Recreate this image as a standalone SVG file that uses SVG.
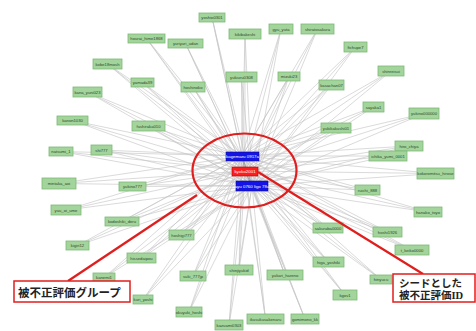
<svg xmlns="http://www.w3.org/2000/svg" width="476" height="331" viewBox="0 0 476 331">
<style>
.e{fill:none;stroke:#c4c4c4;stroke-width:0.7;stroke-opacity:0.9}
.n rect{fill:#a3d49c;stroke:#7db877;stroke-width:0.8}
.n text{font-family:"Liberation Sans",Arial,sans-serif;font-size:4.2px;fill:#2d4a2a;text-anchor:middle}
.b rect{fill:#1414e6;stroke:#0a0a90;stroke-width:0.6}
.r rect{fill:#ff1e1e;stroke:#b00000;stroke-width:0.6}
.b text,.r text{font-family:"Liberation Sans",Arial,sans-serif;font-size:4.4px;fill:#ffffff;text-anchor:middle}
.hl{fill:none;stroke:#e01e1e;stroke-width:2.2}
.lab rect{fill:#ffffff;stroke:#e01e1e;stroke-width:1.5}
.lab text{font-family:"Liberation Serif","Noto Sans CJK JP",serif;font-weight:bold;fill:#222222}
</style>
<rect width="476" height="331" fill="#ffffff"/>
<g id="connectors">
<path class="e" d="M146.5 38.5L242 156M146.5 38.5L245 171M146.5 38.5L252 186"/>
<path class="e" d="M107.5 64L242 156M107.5 64L245 171M107.5 64L252 186"/>
<path class="e" d="M142.5 82.5L242 156M142.5 82.5L245 171M142.5 82.5L252 186"/>
<path class="e" d="M87.5 92L242 156M87.5 92L245 171M87.5 92L252 186"/>
<path class="e" d="M212 17.5L242 156M212 17.5L245 171M212 17.5L252 186"/>
<path class="e" d="M185.5 43.5L242 156M185.5 43.5L245 171M185.5 43.5L252 186"/>
<path class="e" d="M245 34L242 156M245 34L245 171M245 34L252 186"/>
<path class="e" d="M281 29L242 156M281 29L245 171M281 29L252 186"/>
<path class="e" d="M317.5 29L242 156M317.5 29L245 171M317.5 29L252 186"/>
<path class="e" d="M355.5 47L242 156M355.5 47L245 171M355.5 47L252 186"/>
<path class="e" d="M391 71L242 156M391 71L245 171M391 71L252 186"/>
<path class="e" d="M331.5 85L242 156M331.5 85L245 171M331.5 85L252 186"/>
<path class="e" d="M193 87L242 156M193 87L245 171M193 87L252 186"/>
<path class="e" d="M241.5 77L242 156M241.5 77L245 171M241.5 77L252 186"/>
<path class="e" d="M289 76.5L242 156M289 76.5L245 171M289 76.5L252 186"/>
<path class="e" d="M373.5 107L242 156M373.5 107L245 171M373.5 107L252 186"/>
<path class="e" d="M424 113.5L242 156M424 113.5L245 171M424 113.5L252 186"/>
<path class="e" d="M72.5 120.5L242 156M72.5 120.5L245 171M72.5 120.5L252 186"/>
<path class="e" d="M148.5 126L242 156M148.5 126L245 171M148.5 126L252 186"/>
<path class="e" d="M61 151.5L242 156M61 151.5L245 171M61 151.5L252 186"/>
<path class="e" d="M101.5 150L242 156M101.5 150L245 171M101.5 150L252 186"/>
<path class="e" d="M59 183.5L242 156M59 183.5L245 171M59 183.5L252 186"/>
<path class="e" d="M132.5 186.5L242 156M132.5 186.5L245 171M132.5 186.5L252 186"/>
<path class="e" d="M66 210L242 156M66 210L245 171M66 210L252 186"/>
<path class="e" d="M122 221.5L242 156M122 221.5L245 171M122 221.5L252 186"/>
<path class="e" d="M77.5 245.5L242 156M77.5 245.5L245 171M77.5 245.5L252 186"/>
<path class="e" d="M141.5 258L242 156M141.5 258L245 171M141.5 258L252 186"/>
<path class="e" d="M104 277.5L242 156M104 277.5L245 171M104 277.5L252 186"/>
<path class="e" d="M143 299.5L242 156M143 299.5L245 171M143 299.5L252 186"/>
<path class="e" d="M181.5 235L242 156M181.5 235L245 171M181.5 235L252 186"/>
<path class="e" d="M193 276L242 156M193 276L245 171M193 276L252 186"/>
<path class="e" d="M189 312L242 156M189 312L245 171M189 312L252 186"/>
<path class="e" d="M229 325L242 156M229 325L245 171M229 325L252 186"/>
<path class="e" d="M239 270L242 156M239 270L245 171M239 270L252 186"/>
<path class="e" d="M285 275L242 156M285 275L245 171M285 275L252 186"/>
<path class="e" d="M265.5 319L242 156M265.5 319L245 171M265.5 319L252 186"/>
<path class="e" d="M305 319L242 156M305 319L245 171M305 319L252 186"/>
<path class="e" d="M328 228L242 156M328 228L245 171M328 228L252 186"/>
<path class="e" d="M328.5 262L242 156M328.5 262L245 171M328.5 262L252 186"/>
<path class="e" d="M345 295L242 156M345 295L245 171M345 295L252 186"/>
<path class="e" d="M336 128L242 156M336 128L245 171M336 128L252 186"/>
<path class="e" d="M409 146L242 156M409 146L245 171M409 146L252 186"/>
<path class="e" d="M388 156L242 156M388 156L245 171M388 156L252 186"/>
<path class="e" d="M435.5 173.5L242 156M435.5 173.5L245 171M435.5 173.5L252 186"/>
<path class="e" d="M367.5 190L242 156M367.5 190L245 171M367.5 190L252 186"/>
<path class="e" d="M428 212L242 156M428 212L245 171M428 212L252 186"/>
<path class="e" d="M387.5 232L242 156M387.5 232L245 171M387.5 232L252 186"/>
<path class="e" d="M412 250L242 156M412 250L245 171M412 250L252 186"/>
<path class="e" d="M381 279.5L242 156M381 279.5L245 171M381 279.5L252 186"/>
<path class="e" style="stroke:#888888" d="M242 156L245 171L252 186M242 156L252 186"/>
</g>
<g id="n1" class="n"><rect x="128" y="34" width="37" height="9"/><text x="146.5" y="40">hourai_hime1868</text></g>
<g id="n2" class="n"><rect x="93" y="59" width="29" height="10"/><text x="107.5" y="65.5">kobe18mosh</text></g>
<g id="n3" class="n"><rect x="131" y="78" width="23" height="9"/><text x="142.5" y="84">yamada39</text></g>
<g id="n4" class="n"><rect x="73" y="87" width="29" height="10"/><text x="87.5" y="93.5">kana_yuni023</text></g>
<g id="n5" class="n"><rect x="199" y="13" width="26" height="9"/><text x="212" y="19">yoshio0301</text></g>
<g id="n6" class="n"><rect x="168" y="39" width="35" height="9"/><text x="185.5" y="45">yuriyuri_udan</text></g>
<g id="n7" class="n"><rect x="229" y="29" width="32" height="10"/><text x="245" y="35.5">kikibakeshi</text></g>
<g id="n8" class="n"><rect x="269" y="24" width="24" height="10"/><text x="281" y="30.5">gyu_yuta</text></g>
<g id="n9" class="n"><rect x="301" y="24" width="33" height="10"/><text x="317.5" y="30.5">shiratosakura</text></g>
<g id="n10" class="n"><rect x="344" y="42" width="23" height="10"/><text x="355.5" y="48.5">ftchupe7</text></g>
<g id="n11" class="n"><rect x="378" y="66" width="26" height="10"/><text x="391" y="72.5">shinreisui</text></g>
<g id="n12" class="n"><rect x="319" y="80" width="25" height="10"/><text x="331.5" y="86.5">kasachan07</text></g>
<g id="n13" class="n"><rect x="181" y="82" width="24" height="10"/><text x="193" y="88.5">hoshinoko</text></g>
<g id="n14" class="n"><rect x="226" y="72" width="31" height="10"/><text x="241.5" y="78.5">yukiuru0308</text></g>
<g id="n15" class="n"><rect x="278" y="72" width="22" height="9"/><text x="289" y="78">mizuki23</text></g>
<g id="n16" class="n"><rect x="363" y="102" width="21" height="10"/><text x="373.5" y="108.5">sayaka1</text></g>
<g id="n17" class="n"><rect x="409" y="108" width="30" height="11"/><text x="424" y="115">yukino000000</text></g>
<g id="n18" class="n"><rect x="57" y="116" width="31" height="9"/><text x="72.5" y="122">kanon1030</text></g>
<g id="n19" class="n"><rect x="132" y="121" width="33" height="10"/><text x="148.5" y="127.5">fushiraka010</text></g>
<g id="n20" class="n"><rect x="49" y="147" width="24" height="9"/><text x="61" y="153">natsumi_1</text></g>
<g id="n21" class="n"><rect x="91" y="145" width="21" height="10"/><text x="101.5" y="151.5">shi777</text></g>
<g id="n22" class="n"><rect x="42" y="178" width="34" height="11"/><text x="59" y="185">mintaka_aoi</text></g>
<g id="n23" class="n"><rect x="119" y="182" width="27" height="9"/><text x="132.5" y="188">yukino777</text></g>
<g id="n24" class="n"><rect x="51" y="205" width="30" height="10"/><text x="66" y="211.5">yuu_oi_ume</text></g>
<g id="n25" class="n"><rect x="105" y="217" width="34" height="9"/><text x="122" y="223">kodoshiki_deru</text></g>
<g id="n26" class="n"><rect x="66" y="241" width="23" height="9"/><text x="77.5" y="247">kigiri12</text></g>
<g id="n27" class="n"><rect x="127" y="253" width="29" height="10"/><text x="141.5" y="259.5">hissedaipou</text></g>
<g id="n28" class="n"><rect x="93" y="273" width="22" height="9"/><text x="104" y="279">kanemi1</text></g>
<g id="n29" class="n"><rect x="133" y="295" width="20" height="9"/><text x="143" y="301">kuri_yoshi</text></g>
<g id="n30" class="n"><rect x="169" y="230" width="25" height="10"/><text x="181.5" y="236.5">hoshigi777</text></g>
<g id="n31" class="n"><rect x="180" y="271" width="26" height="10"/><text x="193" y="277.5">suki_777jp</text></g>
<g id="n32" class="n"><rect x="176" y="307" width="26" height="10"/><text x="189" y="313.5">okuyuki_hoshi</text></g>
<g id="n33" class="n"><rect x="215" y="320" width="28" height="10"/><text x="229" y="326.5">kazuami0303</text></g>
<g id="n34" class="n"><rect x="225" y="265" width="28" height="10"/><text x="239" y="271.5">shinjiyukid</text></g>
<g id="n35" class="n"><rect x="267" y="270" width="36" height="10"/><text x="285" y="276.5">yukari_hareno</text></g>
<g id="n36" class="n"><rect x="247" y="314" width="37" height="10"/><text x="265.5" y="320.5">ikusukusakenaru</text></g>
<g id="n37" class="n"><rect x="291" y="314" width="28" height="10"/><text x="305" y="320.5">gomimono_kk</text></g>
<g id="n38" class="n"><rect x="313" y="223" width="30" height="10"/><text x="328" y="229.5">sakuraba0000</text></g>
<g id="n39" class="n"><rect x="313" y="257" width="31" height="10"/><text x="328.5" y="263.5">higa_yoshiki</text></g>
<g id="n40" class="n"><rect x="333" y="290" width="24" height="10"/><text x="345" y="296.5">kgov1</text></g>
<g id="n41" class="n"><rect x="321" y="123" width="30" height="10"/><text x="336" y="129.5">yukikakushi01</text></g>
<g id="n42" class="n"><rect x="395" y="141" width="28" height="10"/><text x="409" y="147.5">hiro_chiya</text></g>
<g id="n43" class="n"><rect x="369" y="151" width="38" height="10"/><text x="388" y="157.5">ichika_yumi_0001</text></g>
<g id="n44" class="n"><rect x="417" y="168" width="37" height="11"/><text x="435.5" y="175">kokoromitsu_hirose</text></g>
<g id="n45" class="n"><rect x="355" y="185" width="25" height="10"/><text x="367.5" y="191.5">ruichi_888</text></g>
<g id="n46" class="n"><rect x="414" y="207" width="28" height="10"/><text x="428" y="213.5">hanako_toyo</text></g>
<g id="n47" class="n"><rect x="373" y="227" width="29" height="10"/><text x="387.5" y="233.5">hoshi1926</text></g>
<g id="n48" class="n"><rect x="395" y="245" width="34" height="10"/><text x="412" y="251.5">t_keiko0000</text></g>
<g id="n49" class="n"><rect x="370" y="275" width="22" height="9"/><text x="381" y="281">hinyucu</text></g>
<g id="c1" class="b"><rect x="226" y="152" width="33" height="9"/><text x="242.5" y="158">kagemaru 0917a</text></g>
<g id="c2" class="r"><rect x="232" y="167" width="26" height="9"/><text x="245" y="173">kyoko2001</text></g>
<g id="c3" class="b"><rect x="236" y="181" width="32" height="10"/><text x="252" y="187.5">ayu 0760 ligo 78a</text></g>
<g id="highlight">
<ellipse class="hl" cx="244.5" cy="170.5" rx="52" ry="37"/>
<line class="hl" stroke-width="2" x1="197" y1="195" x2="68" y2="281"/>
<line class="hl" stroke-width="2" x1="258" y1="172" x2="423" y2="274"/>
</g>
<g id="label-group" class="lab"><rect x="14" y="281" width="116" height="21"/><text x="18" y="297" font-size="11.5">被不正評価グループ</text></g>
<g id="label-seed" class="lab"><rect x="393" y="274" width="82" height="28"/><text x="399" y="287" font-size="10.5">シードとした</text><text x="399" y="299" font-size="10.5">被不正評価ID</text></g>
</svg>
